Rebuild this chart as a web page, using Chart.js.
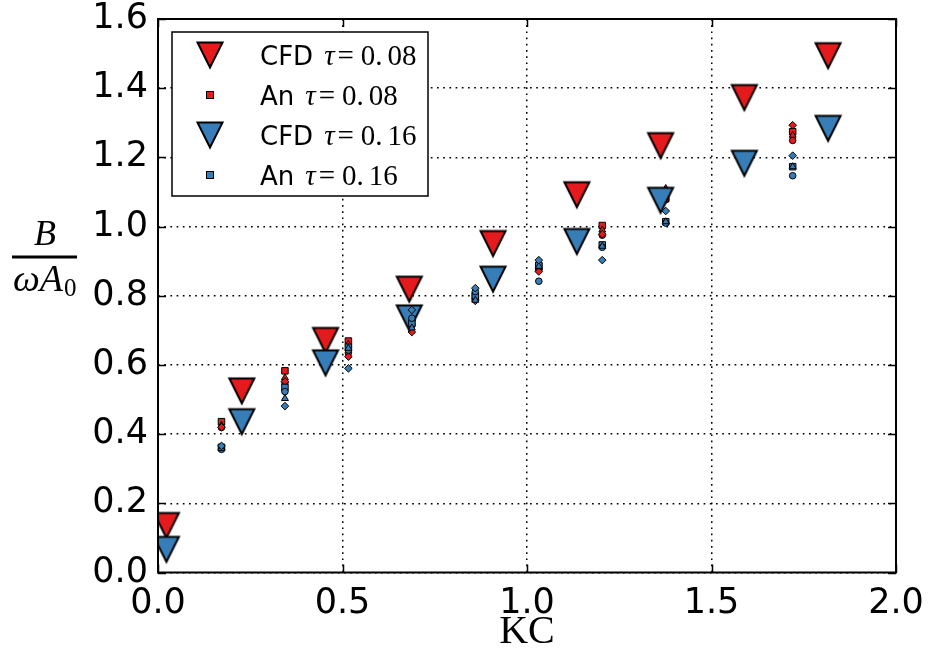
<!DOCTYPE html>
<html>
<head>
<meta charset="utf-8">
<script src="https://cdn.jsdelivr.net/npm/chart.js@4/dist/chart.umd.min.js"></script>
<style>
html,body{margin:0;padding:0;background:#fff;}
canvas{display:block;}
</style>
</head>
<body>
<canvas id="c" width="930" height="666"></canvas>
<script>
// ---------- data ----------
const kcCFD = [0.0227, 0.227, 0.454, 0.681, 0.908, 1.135, 1.362, 1.589, 1.816];
const cfdTau008 = [0.136, 0.525, 0.671, 0.819, 0.951, 1.092, 1.234, 1.373, 1.494];
const cfdTau016 = [0.067, 0.436, 0.606, 0.736, 0.848, 0.957, 1.076, 1.183, 1.284];

const kcAn = [0.172, 0.344, 0.516, 0.688, 0.860, 1.032, 1.204, 1.376, 1.720];
const anRedSquare   = [0.436, 0.583, 0.669, 0.735, 0.800, 0.885, 1.003, 1.081, 1.274];
const anRedCircle   = [0.419, 0.549, 0.635, 0.715, 0.790, 0.875, 0.975, 1.078, 1.249];
const anRedTriangle = [0.425, 0.563, 0.660, 0.725, 0.795, 0.880, 0.990, 1.110, 1.264];
const anRedDiamond  = [0.420, 0.552, 0.624, 0.695, 0.785, 0.870, 0.978, 1.095, 1.293];
const anBlueSquare   = [0.362, 0.535, 0.651, 0.720, 0.800, 0.888, 0.947, 1.014, 1.173];
const anBlueCircle   = [0.356, 0.523, 0.643, 0.735, 0.812, 0.842, 0.940, 1.010, 1.147];
const anBlueTriangle = [0.358, 0.503, 0.648, 0.707, 0.787, 0.885, 0.943, 1.014, 1.173];
const anBlueDiamond  = [0.366, 0.481, 0.590, 0.759, 0.822, 0.903, 0.903, 1.045, 1.205];

const xTickLabels = ['0.0', '0.5', '1.0', '1.5', '2.0'];
const yTickLabels = ['0.0', '0.2', '0.4', '0.6', '0.8', '1.0', '1.2', '1.4', '1.6'];
const legendLabels = [
  {prefix: 'CFD', val: '0.08'},
  {prefix: 'An', val: '0.08'},
  {prefix: 'CFD', val: '0.16'},
  {prefix: 'An', val: '0.16'}
];

// ---------- styles ----------
const RED = '#e41a1c';
const BLUE = '#377eb8';

function makeTri(color) {
  const s = 32, c = document.createElement('canvas');
  c.width = s; c.height = s;
  const g = c.getContext('2d');
  const h = 12.5, m = s / 2;
  g.beginPath();
  g.moveTo(m - h, m - h);
  g.lineTo(m + h, m - h);
  g.lineTo(m, m + h);
  g.closePath();
  g.fillStyle = color; g.fill();
  g.lineWidth = 2; g.strokeStyle = '#000'; g.lineJoin = 'miter'; g.stroke();
  return c;
}
const triRed = makeTri(RED);
const triBlue = makeTri(BLUE);

function pts(xs, ys) { return xs.map((x, i) => ({x: x, y: ys[i]})); }

function anSet(label, ys, color, style, r, ord) {
  return {label: label, data: pts(kcAn, ys), pointStyle: style, pointRadius: r,
    backgroundColor: color, borderColor: '#000', borderWidth: 1, showLine: false,
    clip: 0, order: ord};
}

const datasets = [
  {label: 'CFD τ=0.08', data: pts(kcCFD, cfdTau008), pointStyle: triRed, pointRadius: 13,
   backgroundColor: RED, borderColor: '#000', showLine: false, clip: 0, order: 20},
  anSet('An τ=0.08', anRedSquare, RED, 'rect', 4.6, 19),
  anSet('An τ=0.08 (b)', anRedCircle, RED, 'circle', 3.3, 18),
  anSet('An τ=0.08 (c)', anRedTriangle, RED, 'triangle', 4, 17),
  anSet('An τ=0.08 (d)', anRedDiamond, RED, 'rectRot', 3.8, 16),
  {label: 'CFD τ=0.16', data: pts(kcCFD, cfdTau016), pointStyle: triBlue, pointRadius: 13,
   backgroundColor: BLUE, borderColor: '#000', showLine: false, clip: 0, order: 10},
  anSet('An τ=0.16', anBlueSquare, BLUE, 'rect', 4.6, 9),
  anSet('An τ=0.16 (b)', anBlueCircle, BLUE, 'circle', 3.3, 8),
  anSet('An τ=0.16 (c)', anBlueTriangle, BLUE, 'triangle', 4, 7),
  anSet('An τ=0.16 (d)', anBlueDiamond, BLUE, 'rectRot', 3.8, 6)
];

// ---------- plugins ----------
const framePlugin = {
  id: 'frame',
  afterDatasetsDraw(chart) {
    const ctx = chart.ctx, a = chart.chartArea;
    const xs = chart.scales.x, ys = chart.scales.y;
    ctx.save();
    ctx.strokeStyle = '#000';
    ctx.lineWidth = 1.5;
    const tl = 8;
    ctx.beginPath();
    xs.ticks.forEach(t => {
      const px = Math.round(xs.getPixelForValue(t.value)) + 0.5;
      ctx.moveTo(px, a.bottom); ctx.lineTo(px, a.bottom - tl);
      ctx.moveTo(px, a.top); ctx.lineTo(px, a.top + tl);
    });
    ys.ticks.forEach(t => {
      const py = Math.round(ys.getPixelForValue(t.value)) + 0.5;
      ctx.moveTo(a.left, py); ctx.lineTo(a.left + tl, py);
      ctx.moveTo(a.right, py); ctx.lineTo(a.right - tl, py);
    });
    ctx.stroke();
    ctx.lineWidth = 2;
    ctx.strokeRect(a.left, a.top, a.right - a.left, a.bottom - a.top);
    ctx.restore();
  },
  afterDraw(chart) {
    const ctx = chart.ctx;
    ctx.save();
    // legend box
    const bx = 172, by = 32, bw = 256, bh = 164;
    ctx.fillStyle = '#fff';
    ctx.fillRect(bx, by, bw, bh);
    ctx.strokeStyle = '#000';
    ctx.lineWidth = 1.5;
    ctx.strokeRect(bx, by, bw, bh);
    const rows = [55, 95, 135, 175];
    const marks = [triRed, 'sq' + RED, triBlue, 'sq' + BLUE];
    rows.forEach((ry, i) => {
      const mk = marks[i];
      if (typeof mk === 'string') {
        ctx.fillStyle = mk.slice(2);
        ctx.fillRect(206.5, ry - 3.5, 7, 7);
        ctx.lineWidth = 1; ctx.strokeStyle = '#000';
        ctx.strokeRect(206.5, ry - 3.5, 7, 7);
      } else {
        ctx.drawImage(mk, 210 - mk.width / 2, ry - mk.height / 2);
      }
      drawMathLabel(ctx, 260, ry + 10, legendLabels[i].prefix, legendLabels[i].val);
    });
    // y-axis label: B / (omega A_0)
    ctx.fillStyle = '#000';
    ctx.textBaseline = 'alphabetic';
    ctx.textAlign = 'center';
    ctx.font = 'italic 36px "Liberation Serif"';
    ctx.fillText('B', 45, 245);
    ctx.fillRect(12, 255.5, 65, 3);
    ctx.textAlign = 'left';
    ctx.font = 'italic 38px "Liberation Serif"';
    ctx.fillText('ωA', 13, 291);
    const w = ctx.measureText('ωA').width;
    ctx.font = '25px "Liberation Serif"';
    ctx.fillText('0', 13 + w + 1, 296);
    ctx.restore();
  }
};

function drawMathLabel(ctx, x, y, prefix, val) {
  ctx.textBaseline = 'alphabetic';
  ctx.textAlign = 'left';
  ctx.fillStyle = '#000';
  ctx.font = '26px "DejaVu Sans"';
  ctx.fillText(prefix, x, y);
  x += ctx.measureText(prefix).width + 11;
  ctx.font = 'italic 29px "Liberation Serif"';
  ctx.fillText('τ', x, y);
  x += ctx.measureText('τ').width + 3;
  ctx.font = '29px "Liberation Serif"';
  ctx.fillText('=', x, y);
  x += ctx.measureText('=').width + 7;
  const parts = val.split('.');
  ctx.fillText(parts[0] + '.', x, y);
  x += ctx.measureText(parts[0] + '.').width + 5;
  ctx.fillText(parts[1], x, y);
}

new Chart(document.getElementById('c'), {
  type: 'scatter',
  data: {datasets: datasets},
  options: {
    responsive: false,
    animation: false,
    devicePixelRatio: 1,
    layout: {padding: {top: 19, right: 34, left: 0, bottom: 0}},
    plugins: {legend: {display: false}, tooltip: {enabled: false}},
    scales: {
      x: {
        type: 'linear', min: 0, max: 2,
        ticks: {stepSize: 0.5, padding: 10, color: '#000', maxRotation: 0, autoSkip: false,
          font: {family: 'DejaVu Sans', size: 35},
          callback: (v) => xTickLabels[Math.round(v / 0.5)]},
        grid: {color: '#000', lineWidth: 1.5, drawTicks: false},
        border: {display: false, dash: [1.7, 4.5]},
        title: {display: true, text: 'KC', color: '#000',
          font: {family: 'Liberation Serif', size: 40}, padding: {top: 0, bottom: 10}},
        afterFit(s) { s.height = 93.5; s.paddingLeft = 0; s.paddingRight = 0; s.paddingTop = 0; s.paddingBottom = 0; }
      },
      y: {
        type: 'linear', min: 0, max: 1.6,
        ticks: {stepSize: 0.2, padding: 10, color: '#000',
          font: {family: 'DejaVu Sans', size: 35},
          callback: (v) => yTickLabels[Math.round(v / 0.2)]},
        grid: {color: '#000', lineWidth: 1.5, drawTicks: false},
        border: {display: false, dash: [1.7, 4.5]},
        afterFit(s) { s.width = 158; s.paddingLeft = 0; s.paddingRight = 0; s.paddingTop = 0; s.paddingBottom = 0; }
      }
    }
  },
  plugins: [framePlugin]
});
</script>
</body>
</html>
